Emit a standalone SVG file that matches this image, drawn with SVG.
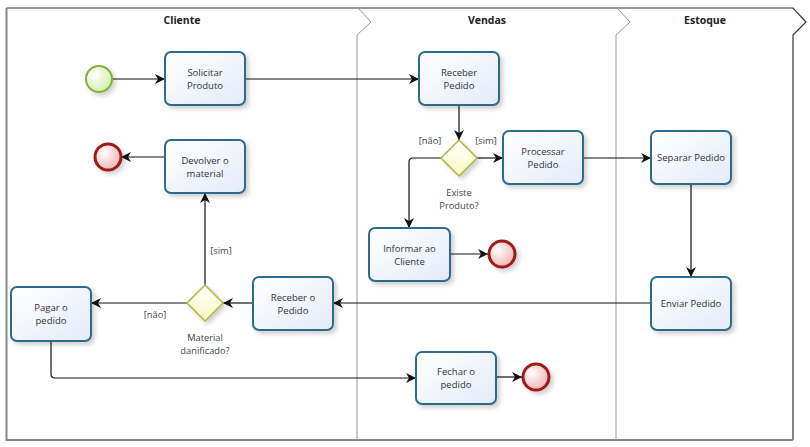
<svg xmlns="http://www.w3.org/2000/svg" width="810" height="447" viewBox="0 0 810 447">
<style>
text{font-family:"Open Sans","Noto Sans","Liberation Sans",sans-serif;fill:#333;}
.t{font-size:9.5px;text-anchor:middle;}
.h{font-size:10.5px;font-weight:bold;text-anchor:middle;fill:#222;}
.lbl{font-size:9.3px;text-anchor:middle;fill:#444;}
.task{fill:url(#gTask);stroke:#2f6a89;stroke-width:2;filter:url(#sh);}
.gw{fill:url(#gGw);stroke:#b3b33a;stroke-width:1.5;filter:url(#sh);}
.start{fill:url(#gStart);stroke:#7fb23e;stroke-width:2;filter:url(#sh);}
.end{fill:url(#gEnd);stroke:#9c1a1a;stroke-width:3;filter:url(#sh);}
.c{fill:none;stroke:#111;stroke-width:1.2;marker-end:url(#arr);}
.sep{fill:none;stroke:#999;stroke-width:1;}
</style>
<defs>
<linearGradient id="gTask" x1="0" y1="0" x2="1" y2="1"><stop offset="0" stop-color="#ffffff"/><stop offset="1" stop-color="#e3ebf8"/></linearGradient>
<linearGradient id="gGw" x1="0" y1="0" x2="0" y2="1"><stop offset="0" stop-color="#ffffff"/><stop offset="1" stop-color="#f8f8c4"/></linearGradient>
<radialGradient id="gStart" cx="0.35" cy="0.35" r="0.7"><stop offset="0" stop-color="#ffffff"/><stop offset="1" stop-color="#d4eda8"/></radialGradient>
<radialGradient id="gEnd" cx="0.35" cy="0.35" r="0.7"><stop offset="0" stop-color="#ffffff"/><stop offset="1" stop-color="#efb3b3"/></radialGradient>
<filter id="sh" x="-20%" y="-20%" width="150%" height="150%"><feDropShadow dx="3" dy="3" stdDeviation="2" flood-color="#000" flood-opacity="0.18"/></filter>
<marker id="arr" markerUnits="userSpaceOnUse" markerWidth="11" markerHeight="11" refX="10" refY="5" orient="auto"><path d="M0,0 L10,5 L0,10 L3,5 z" fill="#111"/></marker>
</defs>

<g id="pool">
<path d="M6.5,8 H793 L806,22 L793,35 V440" fill="none" stroke="#333" stroke-width="1.2"/>
<path d="M6.5,8 V440 H793" fill="none" stroke="#888" stroke-width="2"/>
<path class="sep" d="M358,8 L371,22 L357,35 V440"/>
<path class="sep" d="M617,8 L630,22 L616,35 V440"/>
<text class="h" x="182" y="24">Cliente</text>
<text class="h" x="487" y="24">Vendas</text>
<text class="h" x="705" y="24">Estoque</text>
</g>

<g id="connectors">
<path class="c" d="M112,79 H165"/>
<path class="c" d="M245,79 H419"/>
<path class="c" d="M459,105 V140"/>
<path class="c" d="M477,158 H503"/>
<path class="c" d="M441,158 H413 Q409,158 409,162 V228"/>
<path class="c" d="M450,254 H488"/>
<path class="c" d="M583,158 H651"/>
<path class="c" d="M691,184 V277"/>
<path class="c" d="M651,303 H333"/>
<path class="c" d="M253,303 H223"/>
<path class="c" d="M187,303 H91"/>
<path class="c" d="M205,285 V193"/>
<path class="c" d="M165,157 H121"/>
<path class="c" d="M51,341 V374 Q51,378 55,378 H416"/>
<path class="c" d="M496,377 H522"/>
<text class="lbl" x="430" y="144">[não]</text>
<text class="lbl" x="486" y="144">[sim]</text>
<text class="lbl" x="155" y="318">[não]</text>
<text class="lbl" x="221" y="254">[sim]</text>
</g>

<g id="start"><circle class="start" cx="99" cy="79" r="13"/></g>
<g id="end1"><circle class="end" cx="108" cy="157" r="13"/></g>
<g id="end2"><circle class="end" cx="502" cy="254" r="13"/></g>
<g id="end3"><circle class="end" cx="536" cy="377" r="13"/></g>

<g id="solicitar"><rect class="task" x="165" y="52" width="80" height="53" rx="6"/><text class="t" x="205" y="76">Solicitar</text><text class="t" x="205" y="89">Produto</text></g>
<g id="devolver"><rect class="task" x="165" y="140" width="80" height="53" rx="6"/><text class="t" x="205" y="164">Devolver o</text><text class="t" x="205" y="177">material</text></g>
<g id="receberPedido"><rect class="task" x="419" y="52" width="80" height="53" rx="6"/><text class="t" x="459" y="76">Receber</text><text class="t" x="459" y="89">Pedido</text></g>
<g id="existe"><path class="gw" d="M459,140 L477,158 L459,176 L441,158 Z"/><text class="lbl" x="459" y="196">Existe</text><text class="lbl" x="459" y="209">Produto?</text></g>
<g id="processar"><rect class="task" x="503" y="131" width="80" height="53" rx="6"/><text class="t" x="543" y="155">Processar</text><text class="t" x="543" y="168">Pedido</text></g>
<g id="informar"><rect class="task" x="369" y="228" width="81" height="53" rx="6"/><text class="t" x="409.5" y="252">Informar ao</text><text class="t" x="409.5" y="265">Cliente</text></g>
<g id="separar"><rect class="task" x="651" y="131" width="80" height="53" rx="6"/><text class="t" x="691" y="161">Separar Pedido</text></g>
<g id="enviar"><rect class="task" x="651" y="277" width="80" height="53" rx="6"/><text class="t" x="691" y="307">Enviar Pedido</text></g>
<g id="receberO"><rect class="task" x="253" y="277" width="80" height="53" rx="6"/><text class="t" x="293" y="301">Receber o</text><text class="t" x="293" y="314">Pedido</text></g>
<g id="material"><path class="gw" d="M205,285 L223,303 L205,321 L187,303 Z"/><text class="lbl" x="205" y="341">Material</text><text class="lbl" x="205" y="354">danificado?</text></g>
<g id="pagar"><rect class="task" x="11" y="287" width="80" height="54" rx="6"/><text class="t" x="51" y="311">Pagar o</text><text class="t" x="51" y="324">pedido</text></g>
<g id="fechar"><rect class="task" x="416" y="352" width="80" height="52" rx="6"/><text class="t" x="456" y="375">Fechar o</text><text class="t" x="456" y="388">pedido</text></g>
</svg>
